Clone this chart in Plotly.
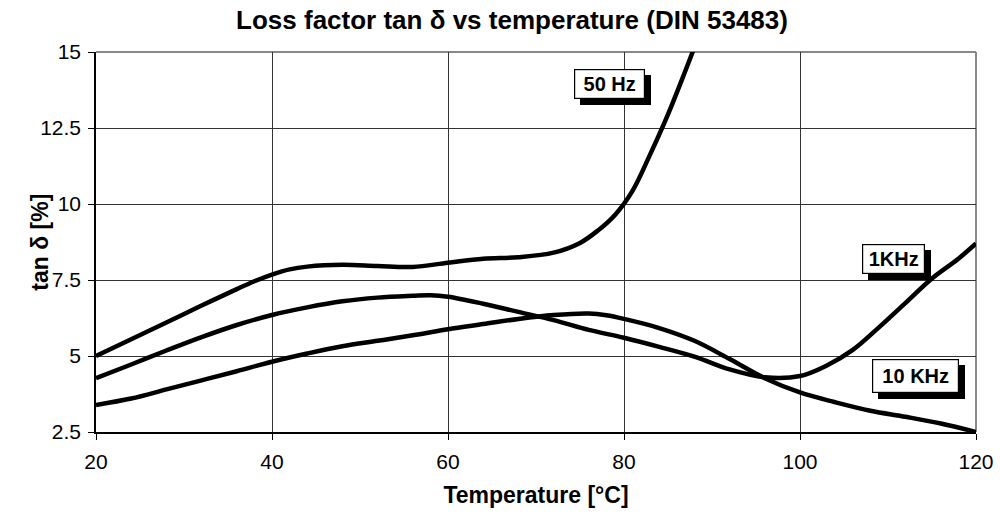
import plotly.graph_objects as go

# ---- data ----
t_50hz = [20, 24, 28, 32, 36, 38, 40, 42, 44, 48, 52, 56, 60, 64, 68, 72, 75, 77, 79, 81, 83, 85, 87, 89]
v_50hz = [5.0, 5.55, 6.1, 6.66, 7.2, 7.46, 7.68, 7.85, 7.94, 8.0, 7.96, 7.93, 8.07, 8.2, 8.25, 8.4, 8.72, 9.12, 9.65, 10.45, 11.65, 12.95, 14.4, 15.9]

t_1khz = [20, 24, 28, 32, 36, 40, 44, 48, 52, 56, 58, 60, 64, 68, 72, 76, 80, 84, 88, 92, 96, 100, 103, 106, 109, 112, 115, 118, 120]
v_1khz = [4.27, 4.72, 5.18, 5.62, 6.02, 6.35, 6.6, 6.8, 6.92, 6.98, 7.0, 6.95, 6.72, 6.45, 6.18, 5.86, 5.6, 5.3, 4.98, 4.56, 4.3, 4.34, 4.68, 5.2, 5.95, 6.75, 7.55, 8.2, 8.7]

t_10khz = [20, 24, 28, 32, 36, 40, 44, 48, 52, 56, 60, 64, 68, 72, 76, 78, 80, 84, 88, 92, 96, 100, 104, 108, 112, 116, 120]
v_10khz = [3.39, 3.6, 3.9, 4.2, 4.5, 4.81, 5.08, 5.32, 5.5, 5.68, 5.88, 6.05, 6.22, 6.35, 6.4, 6.34, 6.22, 5.92, 5.5, 4.9, 4.27, 3.8, 3.48, 3.2, 3.0, 2.78, 2.5]

series_names = ["50 Hz", "1KHz", "10 KHz"]
label_pos_t = [78.3, 110.6, 113.1]
label_pos_v = [13.95, 8.19, 4.34]
label_w = [69, 61, 85]
label_h = [28, 28, 32]

x_ticks = [20, 40, 60, 80, 100, 120]
y_ticks = [2.5, 5, 7.5, 10, 12.5, 15]
y_tick_text = ["2.5", "5", "7.5", "10", "12.5", "15"]

FONT = "Liberation Sans, Arial, sans-serif"

fig = go.Figure()
for t, v, name in [(t_50hz, v_50hz, series_names[0]), (t_1khz, v_1khz, series_names[1]), (t_10khz, v_10khz, series_names[2])]:
    fig.add_trace(go.Scatter(x=t, y=v, mode="lines", name=name,
                             line=dict(color="black", width=4.5, shape="spline", smoothing=1.0),
                             showlegend=False, hoverinfo="skip"))

annotations = []
for name, tx, vy, w, h in zip(series_names, label_pos_t, label_pos_v, label_w, label_h):
    # shadow
    annotations.append(dict(x=tx, y=vy, xref="x", yref="y", text="", showarrow=False,
                            width=w, height=h, bgcolor="black", borderwidth=1, bordercolor="black",
                            borderpad=0, xshift=6, yshift=-6))
    annotations.append(dict(x=tx, y=vy, xref="x", yref="y", text="<b>%s</b>" % name, showarrow=False,
                            width=w, height=h, bgcolor="white", borderwidth=1.2, bordercolor="black",
                            borderpad=0, font=dict(family=FONT, size=20, color="black")))

# y-axis title as a rotated annotation, positioned left of the tick labels
annotations.append(dict(x=-0.064, y=0.5, xref="paper", yref="paper", text="<b>tan δ [%]</b>",
                        showarrow=False, textangle=-90, xanchor="center", yanchor="middle",
                        font=dict(family=FONT, size=23, color="black")))

fig.update_layout(
    width=1000, height=515,
    margin=dict(l=96, r=24, t=52, b=83),
    paper_bgcolor="white", plot_bgcolor="white",
    title=dict(text="<b>Loss factor tan δ vs temperature (DIN 53483)</b>",
               x=0.512, xref="container", xanchor="center",
               y=0.961, yref="container", yanchor="middle",
               font=dict(family=FONT, size=26, color="black")),
    xaxis=dict(range=[20, 120], tickvals=x_ticks, ticks="outside", ticklen=6, tickcolor="black",
               showgrid=True, gridcolor="#333333", gridwidth=1, automargin=False,
               showline=True, linecolor="black", linewidth=2, zeroline=False,
               ticklabelstandoff=4,
               tickfont=dict(family=FONT, size=21, color="black"),
               title=dict(text="<b>Temperature [°C]</b>", standoff=15,
                          font=dict(family=FONT, size=23, color="black"))),
    yaxis=dict(range=[2.5, 15], tickvals=y_ticks, ticktext=y_tick_text, ticks="outside", ticklen=6,
               tickcolor="black", showgrid=True, gridcolor="#333333", gridwidth=1, automargin=False,
               showline=True, linecolor="black", linewidth=1.5, zeroline=False,
               ticklabelstandoff=3,
               tickfont=dict(family=FONT, size=21, color="black")),
    annotations=annotations,
    shapes=[
        dict(type="line", xref="paper", yref="paper", x0=0, x1=1, y0=1, y1=1,
             line=dict(color="#888888", width=2), layer="below"),
        dict(type="line", xref="paper", yref="paper", x0=1, x1=1, y0=0, y1=1,
             line=dict(color="#888888", width=2), layer="below"),
    ],
)

fig.write_html("out.html")
